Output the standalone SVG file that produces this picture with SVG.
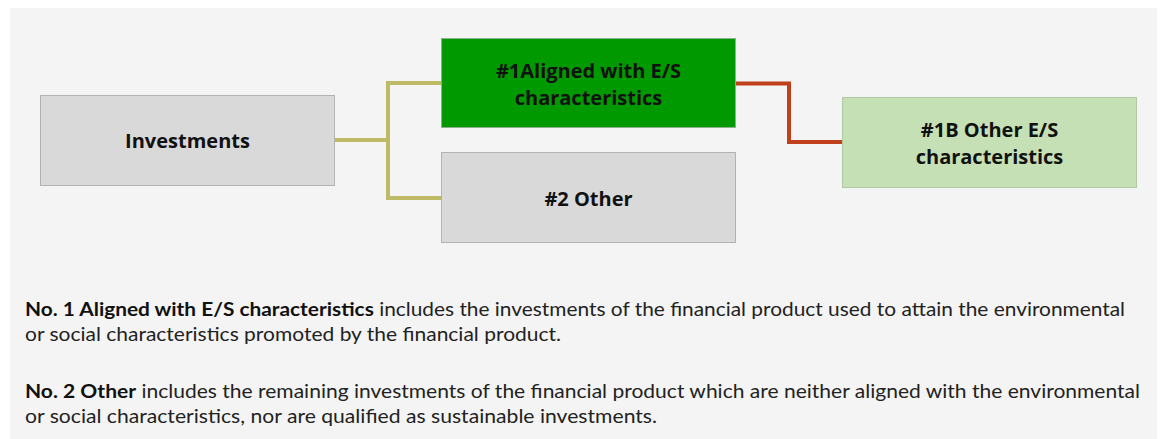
<svg xmlns="http://www.w3.org/2000/svg" width="1162" height="439" viewBox="0 0 1162 439">
<style>
.bg{fill:#f4f4f4}
.gray{fill:#d9d9d9;stroke:#b3b3b3;stroke-width:1}
.green{fill:#009900;stroke:#8fb08f;stroke-width:1}
.lgreen{fill:#c5e0b4;stroke:#b2c8a4;stroke-width:1}
.lbl{font-family:"Open Sans","Liberation Sans",sans-serif;font-weight:bold;font-size:20px;fill:#111;text-anchor:middle}
.olive{fill:none;stroke:#bfba66;stroke-width:4}
.red{fill:none;stroke:#c0401c;stroke-width:4}
.body{font-family:"Lato","Liberation Sans",sans-serif;font-size:19px;fill:#222}
.b{font-weight:bold;fill:#111}
</style>
<rect class="bg" x="10" y="8" width="1147" height="431"/>
<g id="connectors">
<path class="olive" d="M335 140 H388 V83 H441 M388 140 V198 H441"/>
<path class="red" d="M736 83.5 H789 V142 H842"/>
</g>
<g id="investments">
<rect class="gray" x="40.5" y="95.5" width="294" height="90"/>
<text class="lbl" x="187.5" y="148">Investments</text>
</g>
<g id="aligned">
<rect class="green" x="441.5" y="38.5" width="294" height="89"/>
<text class="lbl" x="588.5" y="78">#1Aligned with E/S</text>
<text class="lbl" x="588.5" y="105">characteristics</text>
</g>
<g id="other">
<rect class="gray" x="441.5" y="152.5" width="294" height="90"/>
<text class="lbl" x="588.5" y="206">#2 Other</text>
</g>
<g id="other-es">
<rect class="lgreen" x="842.5" y="97.5" width="294" height="90"/>
<text class="lbl" x="989.5" y="137">#1B Other E/S</text>
<text class="lbl" x="989.5" y="164">characteristics</text>
</g>
<g id="notes">
<text class="body" x="25" y="316" textLength="1100" lengthAdjust="spacingAndGlyphs"><tspan class="b">No. 1 Aligned with E/S characteristics</tspan> includes the investments of the financial product used to attain the environmental</text>
<text class="body" x="25" y="341" textLength="536" lengthAdjust="spacingAndGlyphs">or social characteristics promoted by the financial product.</text>
<text class="body" x="25" y="398" textLength="1115" lengthAdjust="spacingAndGlyphs"><tspan class="b">No. 2 Other</tspan> includes the remaining investments of the financial product which are neither aligned with the environmental</text>
<text class="body" x="25" y="423" textLength="632" lengthAdjust="spacingAndGlyphs">or social characteristics, nor are qualified as sustainable investments.</text>
</g>
</svg>
